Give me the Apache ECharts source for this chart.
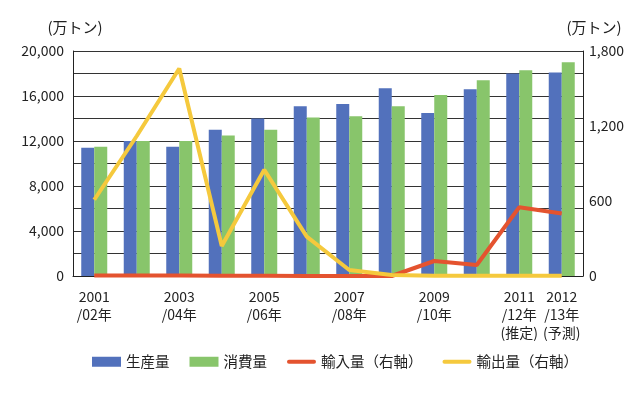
<!DOCTYPE html>
<html>
<head>
<meta charset="utf-8">
<script src="https://cdn.jsdelivr.net/npm/echarts@6/dist/echarts.min.js"></script>
<style>
    html, body { margin: 0; padding: 0; background: #fff; }
    #main { width: 640px; height: 397px; }
</style>
</head>
<body>
<div id="main"></div>
<script>
    // 年度
    var years = ['2001/02年', '2002/03年', '2003/04年', '2004/05年', '2005/06年', '2006/07年',
        '2007/08年', '2008/09年', '2009/10年', '2010/11年', '2011/12年(推定)', '2012/13年(予測)'];
    var yearLabels = ['2001\n/02年', '', '2003\n/04年', '', '2005\n/06年', '',
        '2007\n/08年', '', '2009\n/10年', '', '2011\n/12年\n(推定)', '2012\n/13年\n(予測)'];

    // 左軸 (万トン)
    var production = [11400, 12000, 11500, 13000, 14000, 15100, 15300, 16700, 14500, 16600, 18000, 18100];
    var consumption = [11500, 12000, 12000, 12500, 13000, 14100, 14200, 15100, 16100, 17400, 18300, 19000];

    // 右軸 (万トン)
    var imports = [5, 5, 4, 3, 2, 1, 0, 0, 120, 88, 550, 500];
    var exports = [610, 1120, 1660, 240, 850, 315, 48, 8, 2, 2, 2, 2];

    var names = ['生産量', '消費量', '輸入量（右軸）', '輸出量（右軸）'];

    var font = '"Noto Sans CJK JP", "Noto Sans", sans-serif';
    var lineIcon = 'path://M2,0 L28,0 A2,2 0 0 1 28,4 L2,4 A2,2 0 0 1 2,0 Z';

    var comma = function (v) {
        return String(v).replace(/\B(?=(\d{3})+(?!\d))/g, ',');
    };

    var myChart = echarts.init(document.getElementById('main'));

    var option = {
        animation: false,
        textStyle: { fontFamily: font },
        grid: { left: 73, right: 57, top: 51, bottom: 121 },
        legend: {
            data: [
                { name: names[0], icon: 'rect' },
                { name: names[1], icon: 'rect' },
                { name: names[2], icon: lineIcon },
                { name: names[3], icon: lineIcon }
            ],
            bottom: 23,
            left: 87,
            itemWidth: 29,
            itemHeight: 10,
            itemGap: 20,
            textStyle: { fontSize: 14.5, color: '#222', fontFamily: font }
        },
        xAxis: [{
            type: 'category',
            data: years,
            axisTick: { show: false },
            axisLine: { lineStyle: { color: '#222', width: 1 } },
            axisLabel: {
                interval: 0,
                margin: 12,
                fontSize: 14,
                lineHeight: 18,
                color: '#222',
                formatter: function (v, i) {
                    return yearLabels[i];
                }
            }
        }],
        yAxis: [{
            type: 'value',
            min: 0,
            max: 20000,
            interval: 2000,
            name: '(万トン)',
            nameLocation: 'end',
            nameGap: 16,
            nameTextStyle: { fontSize: 15, color: '#222', fontFamily: font, padding: [0, 0, 0, 4] },
            axisLine: { show: true, lineStyle: { color: '#222' } },
            axisTick: { show: false },
            splitLine: { lineStyle: { color: '#333', width: 1 } },
            axisLabel: {
                fontSize: 14,
                color: '#222',
                margin: 9,
                formatter: function (v) {
                    return v % 4000 === 0 ? comma(v) : '';
                }
            }
        }, {
            type: 'value',
            min: 0,
            max: 1800,
            interval: 600,
            name: '(万トン)',
            nameLocation: 'end',
            nameGap: 16,
            nameTextStyle: { fontSize: 15, color: '#222', fontFamily: font, padding: [0, 0, 0, 22] },
            axisLine: { show: true, lineStyle: { color: '#222' } },
            axisTick: { show: false },
            splitLine: { show: false },
            axisLabel: {
                fontSize: 14,
                color: '#222',
                margin: 6,
                formatter: comma
            }
        }],
        series: [{
            name: names[0],
            type: 'bar',
            data: production,
            barWidth: 13,
            barGap: '0%',
            itemStyle: { color: '#5271BC' }
        }, {
            name: names[1],
            type: 'bar',
            data: consumption,
            barWidth: 13,
            barGap: '0%',
            itemStyle: { color: '#88C56B' }
        }, {
            name: names[2],
            type: 'line',
            yAxisIndex: 1,
            data: imports,
            symbol: 'none',
            lineStyle: { color: '#E4532F', width: 4 },
            itemStyle: { color: '#E4532F' }
        }, {
            name: names[3],
            type: 'line',
            yAxisIndex: 1,
            data: exports,
            symbol: 'none',
            lineStyle: { color: '#F5C93D', width: 4 },
            itemStyle: { color: '#F5C93D' }
        }]
    };

    myChart.setOption(option);
</script>
</body>
</html>
